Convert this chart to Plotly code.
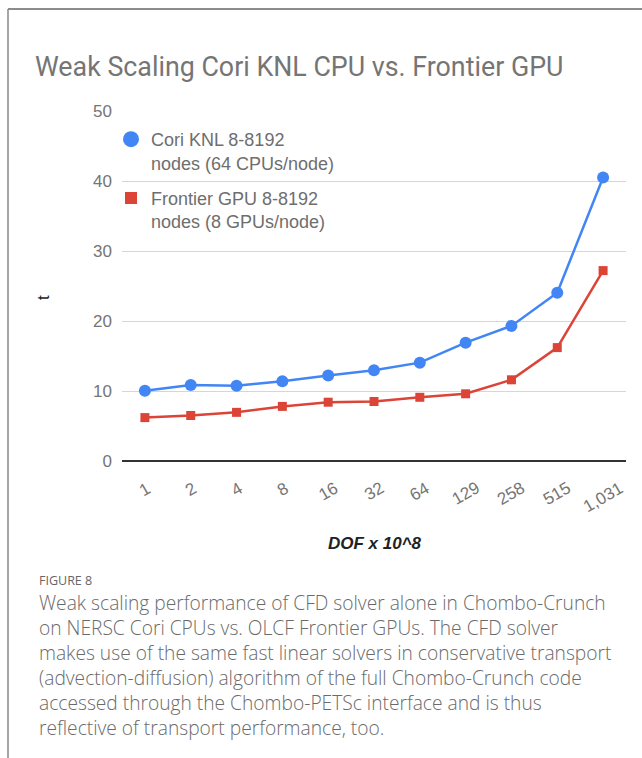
import plotly.graph_objects as go

categories = ["1", "2", "4", "8", "16", "32", "64", "129", "258", "515", "1,031"]
cori_knl = [10.05, 10.85, 10.75, 11.4, 12.2, 12.95, 14.05, 16.9, 19.3, 24.05, 40.5]
frontier_gpu = [6.2, 6.5, 6.95, 7.8, 8.4, 8.5, 9.1, 9.6, 11.6, 16.2, 27.2]
series_names = ["Cori KNL 8-8192<br>nodes (64 CPUs/node)", "Frontier GPU 8-8192<br>nodes (8 GPUs/node)"]
y_ticks = [0, 10, 20, 30, 40, 50]

title_text = "Weak Scaling Cori KNL CPU vs. Frontier GPU"
x_title = "DOF x 10^8"
y_title = "t"
caption_label = "FIGURE 8"
caption_lines = [
    "Weak scaling performance of CFD solver alone in Chombo-Crunch",
    "on NERSC Cori CPUs vs. OLCF Frontier GPUs. The CFD solver",
    "makes use of the same fast linear solvers in conservative transport",
    "(advection-diffusion) algorithm of the full Chombo-Crunch code",
    "accessed through the Chombo-PETSc interface and is thus",
    "reflective of transport performance, too.",
]

W, H = 642, 758
L, R, T, B = 122, 16, 111, 297
PW, PH = W - L - R, H - T - B

def px(x):
    return (x - L) / PW

def py(y):
    return (H - B - y) / PH

BLUE = "#4285F4"
RED = "#DB4437"
GREY = "#757575"
CHART_FONT = "Arial, Liberation Sans"

fig = go.Figure()
fig.add_trace(go.Scatter(x=categories, y=cori_knl, mode="lines+markers",
                         line=dict(color=BLUE, width=2.5),
                         marker=dict(color=BLUE, size=12, symbol="circle"),
                         showlegend=False))
fig.add_trace(go.Scatter(x=categories, y=frontier_gpu, mode="lines+markers",
                         line=dict(color=RED, width=2.5),
                         marker=dict(color=RED, size=9, symbol="square"),
                         showlegend=False))
# legend entries (marker only, as in the original)
fig.add_trace(go.Scatter(x=[None], y=[None], mode="markers", name=series_names[0],
                         marker=dict(color=BLUE, size=16, symbol="circle"),
                         legendgroup="a"))
fig.add_trace(go.Scatter(x=[None], y=[None], mode="markers", name=series_names[1],
                         marker=dict(color=RED, size=12, symbol="square"),
                         legendgroup="b"))

fig.update_layout(
    width=W, height=H,
    margin=dict(l=L, r=R, t=T, b=B),
    paper_bgcolor="white", plot_bgcolor="white",
    font=dict(family=CHART_FONT, color=GREY, size=17),
    title=dict(text=title_text, x=35 / W, xanchor="left", xref="container",
               y=1 - 67 / H, yanchor="middle", yref="container",
               font=dict(family="Roboto", size=26.8, color=GREY)),
    legend=dict(x=px(111), y=py(121), xanchor="left", yanchor="top",
                bgcolor="rgba(0,0,0,0)", font=dict(family=CHART_FONT, size=18, color="#6e6e6e"),
                valign="top", tracegroupgap=9, traceorder="grouped"),
    xaxis=dict(type="category", showticklabels=False, showgrid=False, showline=False,
               ticks="", zeroline=False, range=[-0.5, len(categories) - 0.5]),
    yaxis=dict(range=[0, 50], tickvals=y_ticks, showgrid=True, gridcolor="#d6d6d6",
               gridwidth=1, zeroline=True, zerolinecolor="#333333", zerolinewidth=2,
               showline=False, ticks="", ticklabelstandoff=9,
               tickfont=dict(family=CHART_FONT, size=17, color=GREY)),
)

annotations = []
for i, c in enumerate(categories):
    annotations.append(dict(text=c, x=i, xref="x", y=py(476), yref="paper", textangle=-30,
                            showarrow=False, xanchor="center", yanchor="top",
                            font=dict(family=CHART_FONT, size=17, color=GREY)))
annotations += [
    dict(text="<b><i>" + x_title + "</i></b>", x=px(374.5), y=py(543), xref="paper", yref="paper",
         showarrow=False, xanchor="center", yanchor="middle",
         font=dict(family=CHART_FONT, size=17, color="#222222")),
    dict(text=y_title, x=px(43), y=py(298), xref="paper", yref="paper", textangle=-90,
         showarrow=False, xanchor="center", yanchor="middle",
         font=dict(family=CHART_FONT, size=17, color="#222222")),
    dict(text=caption_label, x=px(38), y=py(580), xref="paper", yref="paper",
         showarrow=False, xanchor="left", yanchor="middle", borderpad=0,
         font=dict(family="Open Sans", size=12.5, color="#666666")),
    dict(text="<br>".join(caption_lines), x=px(38), y=py(664.5), xref="paper", yref="paper",
         showarrow=False, xanchor="left", yanchor="middle", align="left", borderpad=0,
         font=dict(family="Open Sans", size=19.2, color="#6a6a6a", weight=300)),
]
fig.update_layout(annotations=annotations)

fig.add_shape(type="line", xref="paper", yref="paper", x0=px(8), x1=px(660), y0=py(9), y1=py(9),
              line=dict(color="#666666", width=1.5))
fig.add_shape(type="line", xref="paper", yref="paper", x0=px(8), x1=px(8), y0=py(9), y1=py(780),
              line=dict(color="#888888", width=1.5))

fig.write_html("out.html", config={"displayModeBar": False},
               post_script="document.body.style.margin='0';")
